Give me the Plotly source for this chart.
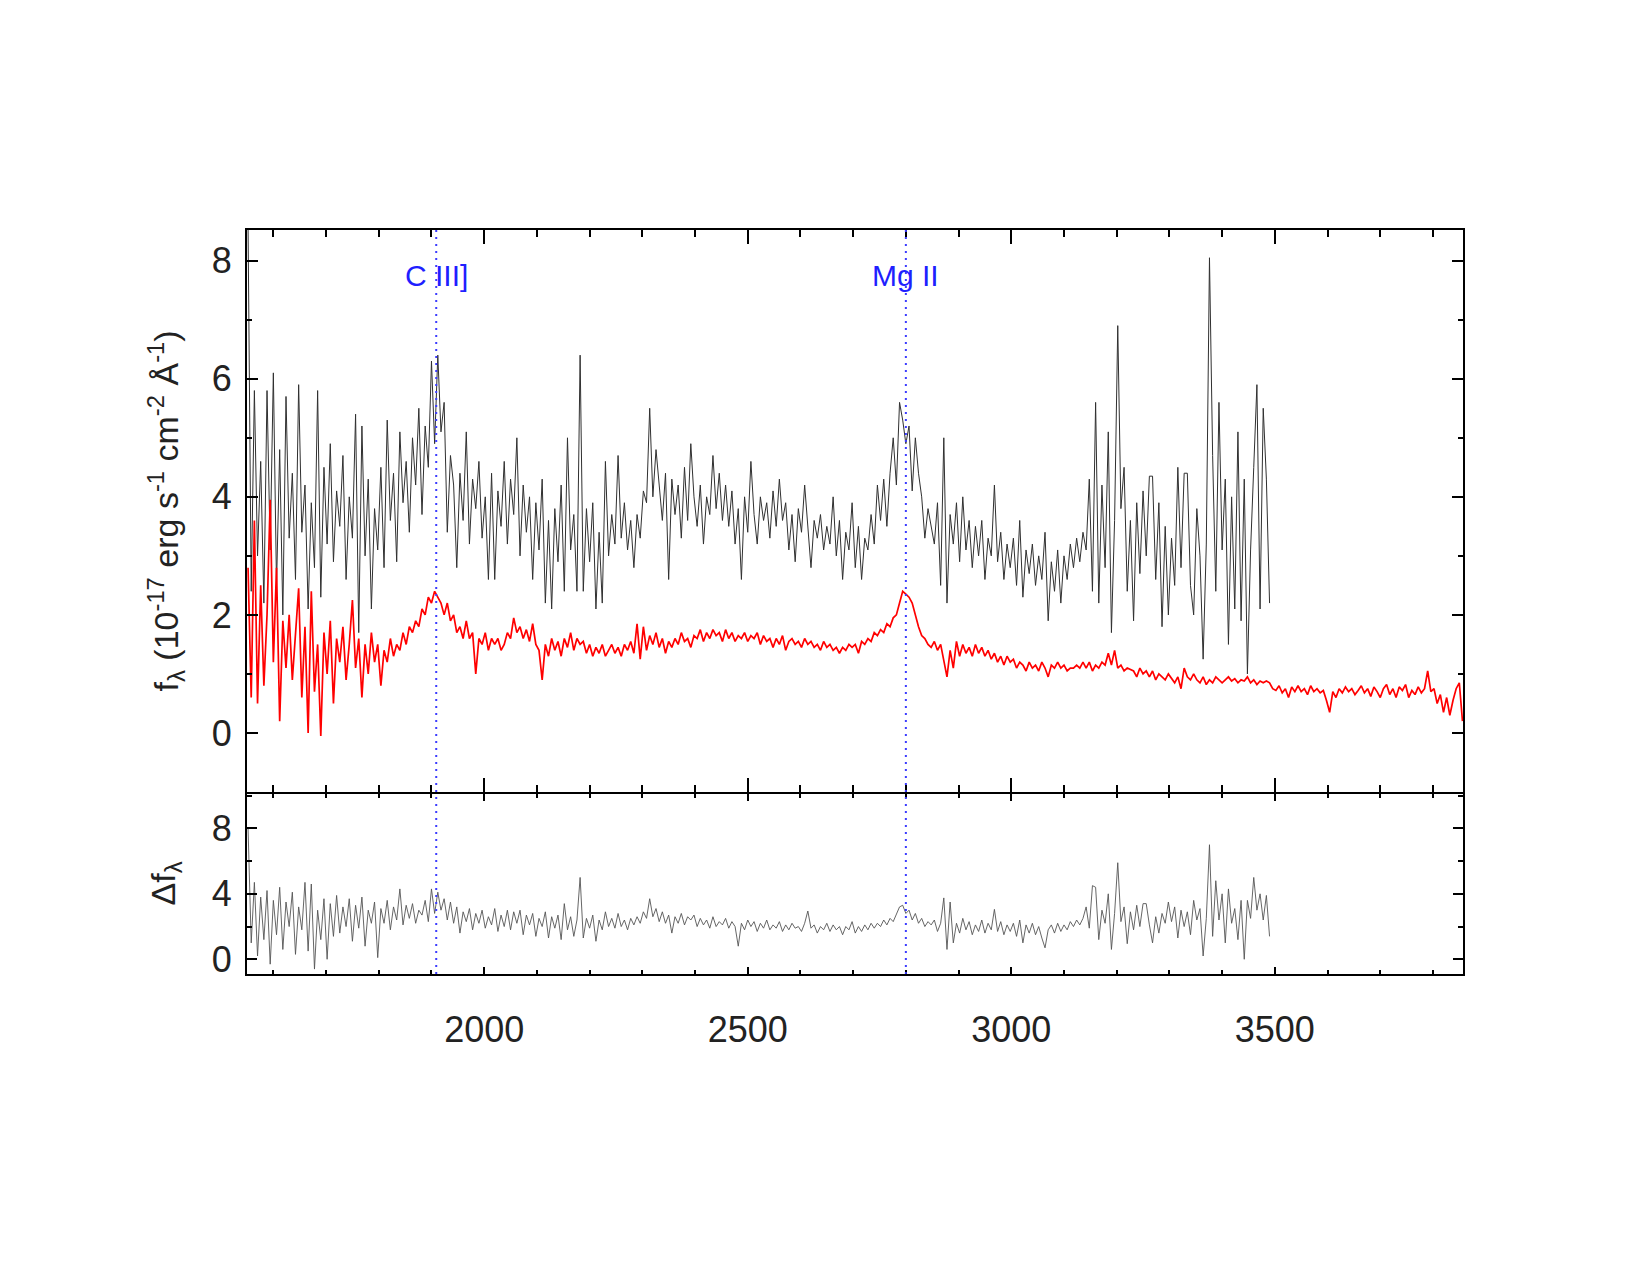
import numpy as np
import plotly.graph_objects as go
from plotly.subplots import make_subplots

# ---------------- data ----------------
wave_start = 1552          # Angstrom, first pixel
wave_step = 6              # Angstrom per sample

flux_observed = [
    8.6, 2.4, 5.8, 3.0, 4.6, 2.2, 5.8, 3.1, 6.1, 2.5,
    4.8, 2.0, 5.7, 3.3, 4.4, 2.6, 5.9, 3.4, 4.2, 2.1,
    3.9, 2.8, 5.8, 2.3, 4.5, 3.2, 4.9, 2.9, 4.1, 3.5,
    4.7, 2.6, 4.0, 3.3, 5.4, 1.7, 5.2, 3.0, 4.3, 2.1,
    3.8, 3.1, 4.5, 2.8, 5.3, 3.6, 4.4, 2.9, 5.1, 3.9,
    4.6, 3.4, 5.0, 4.2, 5.5, 3.7, 5.2, 4.5, 6.3, 4.9,
    6.4, 5.1, 5.6, 3.4, 4.7, 4.2, 2.8, 4.4, 3.6, 5.1,
    3.2, 4.3, 3.8, 4.6, 3.3, 4.0, 2.6, 4.4, 2.6, 4.1,
    3.5, 4.6, 3.2, 4.3, 3.7, 5.0, 3.0, 4.2, 3.4, 4.0,
    2.6, 3.9, 3.1, 4.3, 2.2, 3.6, 2.1, 3.8, 2.9, 4.2,
    2.4, 5.0, 3.1, 3.7, 2.4, 6.4, 2.4, 3.8, 2.9, 3.9,
    2.1, 3.4, 2.2, 4.6, 3.0, 3.7, 3.2, 4.7, 3.3, 3.9,
    3.1, 3.6, 2.8, 3.7, 3.3, 4.1, 3.9, 5.5, 4.0, 4.8,
    4.2, 3.6, 4.4, 2.6, 4.3, 3.7, 4.2, 3.3, 4.5, 3.6,
    4.9, 4.0, 3.5, 4.2, 3.2, 4.0, 3.7, 4.7, 3.8, 4.4,
    3.6, 4.2, 3.5, 4.1, 3.2, 3.8, 2.6, 4.0, 3.4, 4.6,
    3.7, 3.2, 4.0, 3.6, 3.9, 3.3, 4.1, 3.5, 4.3, 3.6,
    3.9, 3.1, 3.7, 2.9, 3.8, 3.4, 4.2, 3.5, 2.8, 3.6,
    3.3, 3.7, 3.1, 3.5, 3.2, 4.0, 3.0, 3.6, 2.6, 3.4,
    3.1, 3.9, 2.8, 3.5, 2.6, 3.3, 3.1, 3.7, 3.2, 4.2,
    3.6, 4.3, 3.5, 4.4, 5.0, 4.2, 5.6, 5.3, 4.9, 5.2,
    4.1, 5.0, 4.4, 4.0, 3.3, 3.8, 3.5, 3.2, 3.9, 2.5,
    5.0, 2.2, 3.7, 3.2, 3.9, 2.9, 4.0, 3.1, 3.6, 2.8,
    3.5, 3.0, 3.6, 2.6, 3.3, 3.0, 4.2, 2.9, 3.4, 2.6,
    3.2, 2.8, 3.3, 2.5, 3.6, 2.3, 3.1, 2.7, 3.2, 2.5,
    3.0, 2.6, 3.4, 1.9, 2.9, 2.4, 3.1, 2.2, 3.0, 2.6,
    3.2, 2.8, 3.3, 2.9, 3.4, 3.1, 4.3, 2.4, 5.6, 2.2,
    4.2, 2.8, 5.1, 1.7, 3.6, 6.9, 3.8, 4.5, 2.4, 3.6,
    1.9, 3.9, 2.7, 4.1, 3.0, 4.35, 4.35, 2.6, 3.9, 1.8,
    3.5, 2.0, 3.3, 2.5, 4.5, 2.8, 4.4, 4.4, 2.5, 2.0,
    3.8, 3.0, 1.25, 3.2, 8.05, 4.7, 2.4, 5.6, 3.1, 4.3,
    1.5, 4.0, 2.1, 5.1, 1.9, 4.3, 1.0, 3.1, 4.5, 5.9,
    2.1, 5.5, 4.3, 2.2,
]

flux_model = [
    2.8, 0.6, 3.6, 0.5, 2.5, 0.8, 2.0, 3.95, 1.2, 2.8,
    0.2, 1.9, 1.1, 2.0, 0.9, 1.6, 2.45, 0.6, 1.8, 0.0,
    2.4, 0.7, 1.5, -0.05, 1.7, 1.0, 1.9, 0.5, 1.6, 1.2,
    1.8, 0.9, 1.5, 2.25, 1.1, 1.6, 0.6, 1.5, 1.0, 1.7,
    1.2, 1.5, 0.8, 1.4, 1.2, 1.6, 1.3, 1.5, 1.4, 1.7,
    1.5, 1.8, 1.7, 1.9, 1.8, 2.1, 2.0, 2.3, 2.2, 2.4,
    2.3, 2.2, 2.0, 2.2, 1.9, 2.0, 1.7, 1.8, 1.6, 1.9,
    1.6, 1.7, 1.0, 1.6, 1.5, 1.7, 1.4, 1.6, 1.5, 1.6,
    1.4, 1.5, 1.7, 1.6, 1.95, 1.7, 1.8, 1.6, 1.75, 1.55,
    1.85, 1.5, 1.4, 0.9, 1.5, 1.3, 1.6, 1.4, 1.55, 1.3,
    1.6, 1.45, 1.7, 1.4, 1.6, 1.5, 1.55, 1.35, 1.5, 1.3,
    1.45, 1.35, 1.5, 1.3, 1.4, 1.5, 1.35, 1.45, 1.3, 1.5,
    1.4, 1.55, 1.35, 1.85, 1.25, 1.8, 1.4, 1.65, 1.5, 1.7,
    1.45, 1.6, 1.35, 1.55, 1.45, 1.6, 1.5, 1.7, 1.55, 1.6,
    1.45, 1.65, 1.6, 1.75, 1.55, 1.7, 1.6, 1.75, 1.65, 1.7,
    1.55, 1.75, 1.6, 1.7, 1.55, 1.65, 1.6, 1.7, 1.55, 1.65,
    1.6, 1.7, 1.5, 1.65, 1.55, 1.6, 1.45, 1.6, 1.5, 1.65,
    1.4, 1.55, 1.6, 1.5, 1.55, 1.45, 1.6, 1.5, 1.55, 1.45,
    1.5, 1.4, 1.55, 1.45, 1.5, 1.4, 1.45, 1.35, 1.45, 1.4,
    1.5, 1.45, 1.5, 1.35, 1.55, 1.5, 1.6, 1.55, 1.7, 1.65,
    1.75, 1.7, 1.85, 1.8, 1.95, 2.0, 2.2, 2.4, 2.35, 2.3,
    2.2, 2.0, 1.8, 1.65, 1.6, 1.5, 1.45, 1.55, 1.4, 1.5,
    1.2, 0.95, 1.4, 1.1, 1.55, 1.3, 1.5, 1.35, 1.45, 1.3,
    1.5, 1.35, 1.45, 1.3, 1.4, 1.25, 1.35, 1.2, 1.3, 1.15,
    1.3, 1.2, 1.25, 1.1, 1.2, 1.15, 1.05, 1.2, 1.1, 1.15,
    1.05, 1.2, 1.1, 0.95, 1.15, 1.1, 1.2, 1.1, 1.15, 1.05,
    1.1, 1.1, 1.15, 1.1, 1.2, 1.1, 1.2, 1.05, 1.15, 1.1,
    1.2, 1.15, 1.35, 1.15, 1.4, 1.1, 1.15, 1.05, 1.1, 1.08,
    1.05, 0.95, 1.1, 1.0, 1.05, 0.95, 1.05, 0.9, 1.0, 0.95,
    0.9, 1.0, 0.92, 0.85, 0.95, 0.75, 1.1, 0.95, 0.9, 1.0,
    0.9, 0.85, 0.95, 0.82, 0.9, 0.85, 0.95, 0.9, 0.85, 0.9,
    0.95, 0.88, 0.92, 0.85, 0.9, 0.88, 0.95, 0.85, 0.9, 0.82,
    0.88, 0.85, 0.88, 0.85, 0.75, 0.72, 0.8, 0.68, 0.75, 0.6,
    0.78, 0.7, 0.8, 0.7, 0.75, 0.65, 0.8, 0.7, 0.75, 0.68,
    0.72, 0.55, 0.35, 0.7, 0.6, 0.75, 0.68, 0.78, 0.7, 0.75,
    0.65, 0.72, 0.8, 0.68, 0.75, 0.62, 0.78, 0.7, 0.6, 0.75,
    0.82, 0.65, 0.75, 0.6, 0.78, 0.72, 0.82, 0.6, 0.72, 0.65,
    0.78, 0.68, 0.75, 1.05, 0.7, 0.75, 0.5, 0.65, 0.35, 0.6,
    0.3, 0.55, 0.75, 0.85, 0.2,
]

delta_flux = [
    8.0, 1.0, 4.7, 0.2, 3.8, 1.2, 4.2, -0.3, 3.6, 1.5,
    4.4, 0.6, 3.5, 2.0, 4.1, 0.3, 3.2, 1.8, 4.7, 0.5,
    4.6, -0.6, 3.0, 1.2, 3.7, 0.0, 3.4, 1.4, 3.9, 1.6,
    3.2, 2.0, 3.7, 1.1, 3.3, 1.9, 3.8, 0.8, 3.0, 2.2,
    3.5, 0.1, 3.1, 2.2, 3.6, 1.8, 3.2, 2.4, 4.3, 2.1,
    3.3, 2.5, 3.4, 2.2, 3.0, 2.7, 3.6, 2.3, 4.3, 2.8,
    4.1, 3.0, 3.7, 2.4, 3.5, 2.2, 3.2, 1.6, 2.9, 2.3,
    3.1, 1.8, 2.8, 2.2, 3.0, 1.9, 2.6, 2.1, 3.1, 1.7,
    2.7, 2.0, 3.0, 1.8, 2.9, 2.2, 3.0, 1.5, 2.7, 2.1,
    2.8, 1.4, 2.5, 2.0, 2.9, 1.3, 2.6, 1.9, 2.7, 1.2,
    3.4, 1.8, 2.6, 1.4, 2.4, 5.0, 1.3, 2.5, 1.9, 2.7,
    1.1, 2.4, 1.8, 2.9, 2.0, 2.5, 1.9, 2.8, 2.0, 2.4,
    1.8, 2.5, 2.1, 2.6, 2.2, 2.9, 2.5, 3.7, 2.6, 3.1,
    2.3, 2.9, 2.2, 2.7, 1.6, 2.6, 2.2, 2.8, 2.1, 2.6,
    2.4, 2.7, 2.0, 2.5, 2.1, 2.4, 1.9, 2.6, 2.0, 2.3,
    2.1, 2.5, 1.9, 2.3, 2.0, 0.8, 2.2, 1.8, 2.4, 2.0,
    2.3, 1.7, 2.2, 1.9, 2.4, 1.8, 2.1, 1.9, 2.3, 1.7,
    2.1, 1.8, 2.2, 1.9, 2.0, 1.7, 2.2, 2.95, 1.9, 2.1,
    1.6, 2.0, 1.8, 2.2, 1.7, 2.1, 1.8, 2.0, 1.5, 2.0,
    1.8, 2.3, 1.6, 2.0, 1.7, 2.1, 1.8, 2.2, 1.9, 2.2,
    2.0, 2.4, 2.1, 2.5, 2.3, 2.7, 3.2, 3.3, 2.8, 3.0,
    2.4, 2.8, 2.2, 2.5, 2.0, 2.3, 2.1, 2.4, 1.7, 2.2,
    3.75, 0.6, 3.5, 1.0, 2.2, 1.6, 2.5, 1.8, 2.3, 1.5,
    2.1, 1.7, 2.4, 1.6, 2.2, 1.8, 3.05, 1.7, 2.3, 1.5,
    2.1, 1.7, 2.2, 1.4, 2.4, 1.0, 2.1, 1.6, 2.2, 1.5,
    2.0, 1.3, 0.7, 1.8, 2.1, 1.6, 2.2, 1.7, 2.1, 1.8,
    2.3, 2.0, 2.4, 2.1, 2.5, 3.2, 1.9, 4.5, 4.4, 1.2,
    3.0, 2.2, 4.0, 0.6, 2.8, 5.9, 2.3, 3.2, 0.95, 2.9,
    1.8, 3.3, 2.0, 3.4, 3.4, 2.1, 1.0, 2.6, 1.6, 2.8,
    2.2, 3.5, 2.3, 3.2, 1.3, 3.0, 2.0, 2.9, 1.5, 3.6,
    2.4, 3.1, 0.2, 2.5, 7.0, 1.4, 4.8, 2.4, 4.0, 1.0,
    4.3, 2.2, 3.1, 1.2, 3.6, 0.0, 3.6, 2.5, 5.0, 3.0,
    4.0, 2.4, 3.9, 1.4,
]

line_names = ["C III]", "Mg II"]
line_waves = [1909, 2800]

x_range = [1550, 3857]
y_main_range = [-1.0, 8.52]
y_res_range = [-0.9, 10.1]

# ---------------- build ----------------
wave_obs = wave_start + wave_step * np.arange(len(flux_observed))
wave_mod = wave_start + wave_step * np.arange(len(flux_model))
wave_res = wave_start + wave_step * np.arange(len(delta_flux))

FONT = "Liberation Sans, Arial, Helvetica, sans-serif"
TXT = "#222222"

plot_top, plot_bottom = 230, 974
main_h, res_h = 563, 181
total_h = plot_bottom - plot_top
split = res_h / total_h
gap = 1.0 / total_h   # half the axis-line width, so the two frame lines overlap

fig = make_subplots(rows=2, cols=1, shared_xaxes=True, vertical_spacing=0,
                    row_heights=[main_h, res_h])

fig.add_trace(go.Scatter(x=wave_obs, y=flux_observed, mode="lines",
                         line=dict(color="#303030", width=1.0),
                         showlegend=False, hoverinfo="skip"), row=1, col=1)
fig.add_trace(go.Scatter(x=wave_mod, y=flux_model, mode="lines",
                         line=dict(color="#ff0000", width=1.7),
                         showlegend=False, hoverinfo="skip"), row=1, col=1)
fig.add_trace(go.Scatter(x=wave_res, y=delta_flux, mode="lines",
                         line=dict(color="#555555", width=0.9),
                         showlegend=False, hoverinfo="skip"), row=2, col=1)

axis_common = dict(showline=True, linecolor="black", linewidth=2, mirror="allticks",
                   ticks="inside", tickcolor="black", tickwidth=2,
                   showgrid=False, zeroline=False,
                   tickfont=dict(family=FONT, size=36, color=TXT))

fig.update_xaxes(range=x_range, tickmode="linear", tick0=0, dtick=500, **axis_common)
fig.update_xaxes(row=1, col=1, ticklen=14, showticklabels=False,
                 minor=dict(ticks="inside", tickmode="linear", tick0=0, dtick=100,
                            ticklen=7, tickcolor="black", tickwidth=2, showgrid=False))
fig.update_xaxes(row=2, col=1, ticklen=7, showticklabels=True, ticklabelstandoff=23,
                 minor=dict(ticks="inside", tickmode="linear", tick0=0, dtick=100,
                            ticklen=4, tickcolor="black", tickwidth=2, showgrid=False))

fig.update_yaxes(row=1, col=1, domain=[split + gap, 1], range=y_main_range,
                 tickmode="linear", tick0=0, dtick=2,
                 ticklen=11, ticklabelstandoff=6,
                 minor=dict(ticks="inside", tickmode="linear", tick0=0, dtick=1,
                            ticklen=5, tickcolor="black", tickwidth=2, showgrid=False),
                 **axis_common)
fig.update_yaxes(row=2, col=1, domain=[0, split - gap], range=y_res_range,
                 tickmode="linear", tick0=0, dtick=4,
                 ticklen=10, ticklabelstandoff=6,
                 minor=dict(ticks="inside", tickmode="linear", tick0=0, dtick=2,
                            ticklen=5, tickcolor="black", tickwidth=2, showgrid=False),
                 **axis_common)

# emission line markers
for name, w in zip(line_names, line_waves):
    fig.add_shape(type="line", xref="x", yref="paper", x0=w, x1=w, y0=0, y1=1,
                  line=dict(color="#3c3cff", width=2, dash="2px,5px"), layer="above")
    fig.add_annotation(x=w, y=7.75, xref="x", yref="y", text=name, showarrow=False,
                       xanchor="center", yanchor="middle",
                       font=dict(family=FONT, size=30, color="#1f1fff"))

plot_w = 1463 - 247
fig.add_annotation(xref="paper", yref="paper", x=(165 - 247) / plot_w,
                   y=split + (1 - split) / 2, textangle=-90, showarrow=False,
                   xanchor="center", yanchor="middle",
                   text="f<sub>λ</sub> (10<sup>-17</sup> erg s<sup>-1</sup> cm<sup>-2</sup> Å<sup>-1</sup>)",
                   font=dict(family=FONT, size=34, color=TXT))
fig.add_annotation(xref="paper", yref="paper", x=(165 - 247) / plot_w,
                   y=split / 2, textangle=-90, showarrow=False,
                   xanchor="center", yanchor="middle",
                   text="Δf<sub>λ</sub>",
                   font=dict(family=FONT, size=34, color=TXT))

fig.update_layout(template="none", width=1650, height=1275,
                  margin=dict(l=247, r=1650 - 1463, t=plot_top, b=1275 - plot_bottom,
                              autoexpand=False),
                  paper_bgcolor="white", plot_bgcolor="white",
                  font=dict(family=FONT, color=TXT), showlegend=False)

fig.write_html("out.html")
